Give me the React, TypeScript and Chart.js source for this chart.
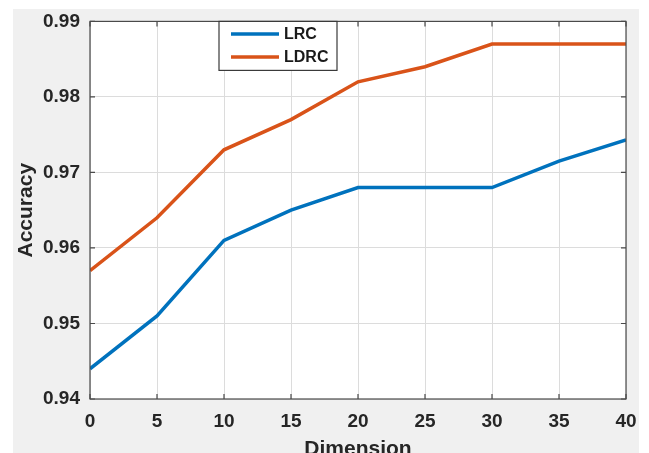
import React, { useEffect, useRef } from "react";
import { Chart, registerables } from "chart.js";

Chart.register(...registerables);

const dimensions = [0, 5, 10, 15, 20, 25, 30, 35, 40];
const lrcValues = [0.944, 0.951, 0.961, 0.965, 0.968, 0.968, 0.968, 0.9715, 0.9743];
const ldrcValues = [0.957, 0.964, 0.973, 0.977, 0.982, 0.984, 0.987, 0.987, 0.987];
const seriesLabels = ["LRC", "LDRC"];
const seriesColors = ["#0072BD", "#D95319"];
const yTickValues = [0.94, 0.95, 0.96, 0.97, 0.98, 0.99];

const FONT = "'Liberation Sans', Arial, sans-serif";
const FRAME = "#4a4a4a";

const backgroundPlugin = {
  id: "matlabBackground",
  beforeDraw(chart: any) {
    const { ctx, chartArea } = chart;
    ctx.save();
    ctx.fillStyle = "#ffffff";
    ctx.fillRect(0, 0, chart.width, chart.height);
    ctx.fillStyle = "#f0f0f0";
    ctx.fillRect(13, 9, 626, chart.height - 9);
    ctx.fillStyle = "#ffffff";
    ctx.fillRect(chartArea.left, chartArea.top, chartArea.right - chartArea.left, chartArea.bottom - chartArea.top);
    ctx.restore();
  },
  afterDraw(chart: any) {
    const { ctx, chartArea } = chart;
    const { left, right, top, bottom } = chartArea;
    const xs = chart.scales.x;
    const ys = chart.scales.y;
    ctx.save();
    // frame
    ctx.strokeStyle = FRAME;
    ctx.lineWidth = 1.2;
    ctx.strokeRect(left, top, right - left, bottom - top);
    // inward ticks
    const tl = 5;
    ctx.beginPath();
    xs.ticks.forEach((_t: any, i: number) => {
      const px = xs.getPixelForTick(i);
      ctx.moveTo(px, bottom);
      ctx.lineTo(px, bottom - tl);
      ctx.moveTo(px, top);
      ctx.lineTo(px, top + tl);
    });
    ys.ticks.forEach((_t: any, i: number) => {
      const py = ys.getPixelForTick(i);
      ctx.moveTo(left, py);
      ctx.lineTo(left + tl, py);
      ctx.moveTo(right, py);
      ctx.lineTo(right - tl, py);
    });
    ctx.stroke();

    // legend
    const bx = left + 129;
    const by = top;
    const bw = 118;
    const bh = 49;
    ctx.fillStyle = "#ffffff";
    ctx.fillRect(bx, by, bw, bh);
    ctx.strokeStyle = "#3a3a3a";
    ctx.lineWidth = 1.2;
    ctx.strokeRect(bx, by, bw, bh);
    chart.data.datasets.forEach((ds: any, i: number) => {
      const ly = by + 12.5 + i * 23;
      ctx.strokeStyle = ds.borderColor;
      ctx.lineWidth = 3.5;
      ctx.beginPath();
      ctx.moveTo(bx + 12, ly);
      ctx.lineTo(bx + 60, ly);
      ctx.stroke();
      ctx.fillStyle = "#1a1a1a";
      ctx.font = `bold 16px ${FONT}`;
      ctx.textBaseline = "middle";
      ctx.textAlign = "left";
      ctx.fillText(ds.label, bx + 65, ly + 1);
    });
    ctx.restore();
  },
};

export default function App() {
  const canvasRef = useRef<HTMLCanvasElement | null>(null);

  useEffect(() => {
    if (!canvasRef.current) return;
    const chart = new Chart(canvasRef.current, {
      type: "line",
      data: {
        datasets: [
          {
            label: seriesLabels[0],
            data: dimensions.map((d, i) => ({ x: d, y: lrcValues[i] })),
            borderColor: seriesColors[0],
            backgroundColor: seriesColors[0],
            borderWidth: 3.5,
            pointRadius: 0,
            tension: 0,
          },
          {
            label: seriesLabels[1],
            data: dimensions.map((d, i) => ({ x: d, y: ldrcValues[i] })),
            borderColor: seriesColors[1],
            backgroundColor: seriesColors[1],
            borderWidth: 3.5,
            pointRadius: 0,
            tension: 0,
          },
        ],
      },
      options: {
        responsive: false,
        animation: false,
        layout: { padding: { left: 0, right: 23, top: 20, bottom: 0 } },
        plugins: {
          legend: { display: false },
          tooltip: { enabled: false },
        },
        scales: {
          x: {
            type: "linear",
            min: 0,
            max: 40,
            ticks: {
              stepSize: 5,
              padding: 11,
              color: "#262626",
              font: { family: FONT, size: 19, weight: "bold" },
            },
            grid: { color: "#dcdcdc", lineWidth: 1, drawTicks: false },
            border: { display: false },
            title: {
              display: true,
              text: "Dimension",
              color: "#262626",
              font: { family: FONT, size: 21, weight: "bold" },
              padding: { top: 0, bottom: -9 },
            },
            afterFit(scale: any) {
              scale.height = 54;
            },
          },
          y: {
            type: "linear",
            min: 0.94,
            max: 0.99,
            afterBuildTicks(scale: any) {
              scale.ticks = yTickValues.map((v) => ({ value: v }));
            },
            ticks: {
              padding: 10,
              color: "#262626",
              font: { family: FONT, size: 19, weight: "bold" },
              callback: (v: any) => Number(v).toFixed(2),
            },
            grid: { color: "#dcdcdc", lineWidth: 1, drawTicks: false },
            border: { display: false },
            title: {
              display: true,
              text: "Accuracy",
              color: "#262626",
              font: { family: FONT, size: 21, weight: "bold" },
              padding: { top: 14, bottom: 0 },
            },
            afterFit(scale: any) {
              scale.width = 90;
            },
          },
        },
      },
      plugins: [backgroundPlugin],
    });
    return () => chart.destroy();
  }, []);

  return (
    <div style={{ position: "absolute", left: 0, top: 0, width: 649, height: 453 }}>
      <canvas ref={canvasRef} width={649} height={453} />
    </div>
  );
}
